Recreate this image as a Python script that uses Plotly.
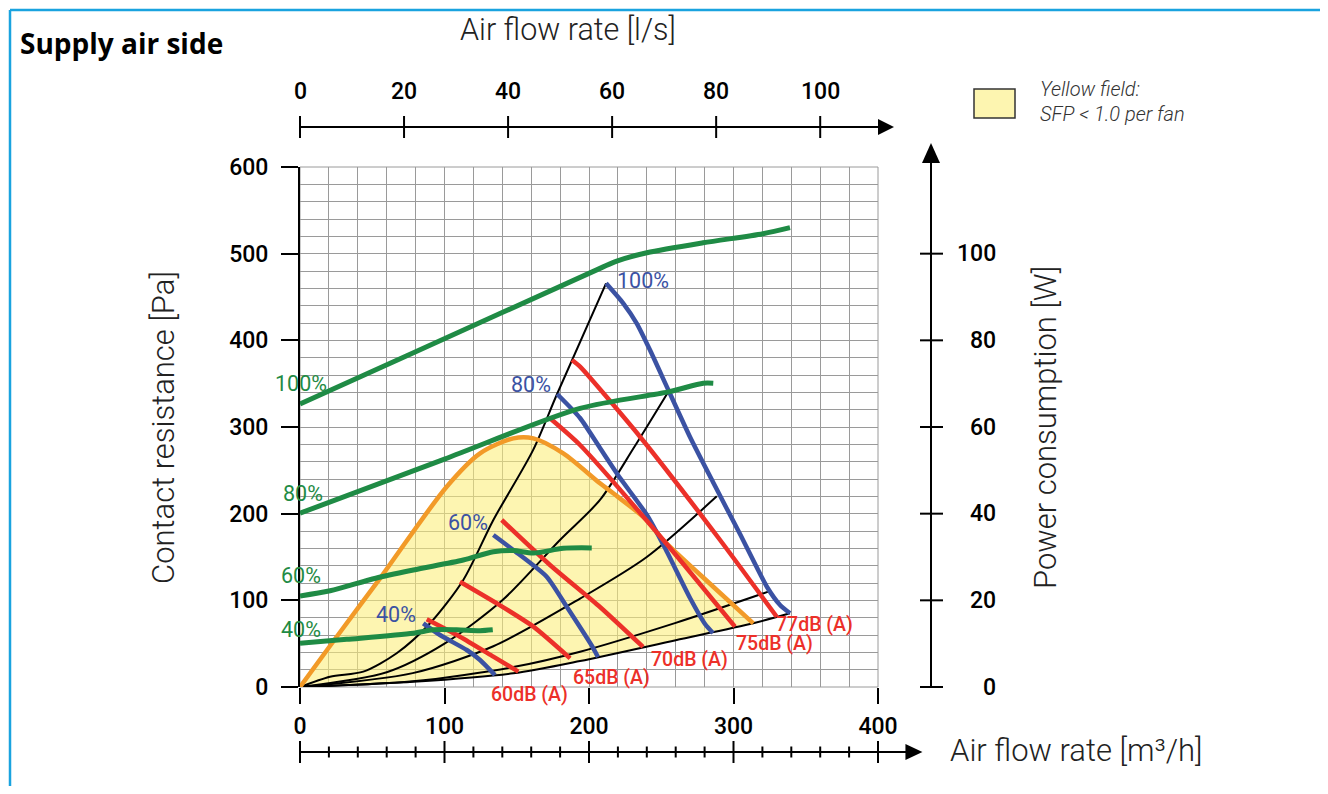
import plotly.graph_objects as go

# ---------------- data ----------------
x_range = [0, 400]            # m3/h
y_range = [0, 600]            # Pa
w_range = [0, 120]            # W  (right axis, 1 W == 5 Pa)
x_ticks = [0, 100, 200, 300, 400]
x_minor = list(range(0, 401, 20))
y_ticks = [0, 100, 200, 300, 400, 500, 600]
w_ticks = [0, 20, 40, 60, 80, 100]
ls_ticks = [0, 20, 40, 60, 80, 100]   # l/s
ls_to_m3h = 3.6

# power consumption curves (W) per fan speed
pw_100_x = [0, 80.8, 207.6, 219.2, 240.0, 278.9, 320.4, 339.1]
pw_100_w = [65.3, 77.5, 96.6, 98.3, 100.2, 102.5, 104.6, 106.0]
pw_80_x = [0, 100, 193.8, 254.9, 279.1, 286.0]
pw_80_w = [40.1, 52.6, 64.3, 68.1, 70.1, 70.1]
pw_60_x = [0, 20.8, 52.4, 78.4, 113.0, 133.8, 147.6, 161.5, 182.2, 201.9]
pw_60_w = [21.0, 22.2, 25.1, 27.0, 29.3, 31.2, 31.5, 30.9, 32.0, 32.1]
pw_40_x = [0, 32.3, 78.4, 92.3, 108.4, 124.6, 133.4]
pw_40_w = [10.1, 11.0, 12.4, 13.2, 13.2, 13.0, 13.2]

# fan curves (Pa) per fan speed
fan_100_x = [211.8, 223.7, 233.0, 242.2, 254.9, 269.9, 285.8, 304.5, 323.2, 332.2, 339.1]
fan_100_pa = [465.8, 442.7, 419.6, 388.8, 342.7, 288.5, 236.5, 176.5, 115.4, 94.6, 85.0]
fan_80_x = [177.9, 193.8, 207.6, 221.5, 240.1, 252.6, 269.9, 280.3, 285.8]
fan_80_pa = [338.1, 310.4, 275.8, 241.1, 198.5, 160.4, 102.7, 72.7, 62.3]
fan_60_x = [133.8, 147.6, 170.7, 184.6, 203.0, 206.2]
fan_60_pa = [175.4, 158.1, 127.3, 92.6, 44.7, 34.6]
fan_40_x = [85.3, 96.9, 115.4, 124.6, 134.9]
fan_40_pa = [73.5, 60.0, 42.7, 31.2, 13.8]

# system curves (black)
sys_1_x = [0, 20.8, 43.8, 66.9, 90.0, 113.0, 133.8, 161.2, 177.9, 211.8]
sys_1_pa = [0, 11.9, 17.7, 38.9, 73.5, 123.5, 192.7, 273.0, 338.1, 465.8]
sys_2_x = [0, 60, 100, 140, 179.9, 207.6, 231.0, 254.9]
sys_2_pa = [0, 17, 50, 100, 169.6, 215.8, 276.0, 340.7]
sys_3_x = [0, 78, 133.8, 193.8, 240, 288.4]
sys_3_pa = [0, 16, 47, 102, 150, 220]
sys_4_x = [0, 78, 147.6, 193.8, 260, 324.1]
sys_4_pa = [0, 6.5, 23, 40.7, 74, 110]
sys_5_x = [0, 78.4, 147.6, 193.8, 260, 313.7, 339.1]
sys_5_pa = [0, 6, 15.8, 30, 54, 73.5, 85]

# sound level lines (red)
db_60_x = [87.7, 110.7, 133.8, 151.1]
db_60_pa = [78.1, 58.0, 35.0, 17.7]
db_65_x = [110.7, 136.1, 161.5, 186.9]
db_65_pa = [121.5, 96.6, 69.6, 33.1]
db_70_x = [139.6, 173.0, 207.6, 237.4]
db_70_pa = [192.7, 140.8, 92.3, 46.2]
db_75_x = [173.0, 193.8, 251.4, 301.0]
db_75_pa = [310.0, 279.2, 169.6, 69.6]
db_77_x = [188.2, 193.8, 235.3, 290.7, 329.9]
db_77_pa = [377.3, 369.6, 288.8, 169.6, 81.1]

# SFP < 1.0 boundary (orange)
sfp_x = [0, 25.4, 55.4, 101.5, 124.6, 147.6, 161.5, 182.2, 207.6, 216.8, 239.9, 251.4, 286.0, 313.7]
sfp_pa = [0, 58.0, 125.4, 231.1, 269.6, 286.9, 286.9, 269.6, 235.0, 223.5, 192.7, 169.6, 115.7, 73.5]

# labels
speed_labels = ["100%", "80%", "60%", "40%"]
pw_label_x = [1, 2.4, 0.6, 1]
pw_label_pa = [350.4, 223.5, 128.3, 66.9]
fan_label_x = [237.6, 159.7, 116.3, 66.3]
fan_label_pa = [469.6, 349.4, 189.8, 83.7]
db_labels = ["60dB (A)", "65dB (A)", "70dB (A)", "75dB (A)", "77dB (A)"]
db_label_x = [158.8, 215.9, 269.6, 328.7, 356.0]
db_label_pa = [-9.2, 11.5, 32.3, 50.5, 72.0]

# ---------------- styling ----------------
GREEN = "#1f8b45"
BLUE = "#3b52a3"
RED = "#ec3029"
ORANGE = "#f29a28"
BLACK = "#000000"
GRID = "#9a9a9a"
FONT = "Roboto"

fig = go.Figure()

def fx(v):   # data x -> paper fraction
    return (v - x_range[0]) / (x_range[1] - x_range[0])

def fy(v):   # data y (Pa) -> paper fraction
    return (v - y_range[0]) / (y_range[1] - y_range[0])

# yellow SFP field: below orange, above lowest system curve
low_x = [x for x in sys_5_x if x <= sfp_x[-1]]
low_pa = sys_5_pa[:len(low_x)]
fig.add_trace(go.Scatter(
    x=sfp_x + low_x[::-1], y=sfp_pa + low_pa[::-1],
    fill="toself", fillcolor="rgba(252,238,120,0.58)",
    line=dict(width=0), mode="lines", hoverinfo="skip", showlegend=False))

for sx, sy in [(sys_1_x, sys_1_pa), (sys_2_x, sys_2_pa), (sys_3_x, sys_3_pa),
               (sys_4_x, sys_4_pa), (sys_5_x, sys_5_pa)]:
    fig.add_trace(go.Scatter(x=sx, y=sy, mode="lines",
                             line=dict(color=BLACK, width=2, shape="spline", smoothing=0.8),
                             showlegend=False))

fig.add_trace(go.Scatter(x=sfp_x, y=sfp_pa, mode="lines",
                         line=dict(color=ORANGE, width=4.5, shape="spline", smoothing=0.8),
                         showlegend=False))

for fxs, fys in [(fan_100_x, fan_100_pa), (fan_80_x, fan_80_pa),
                 (fan_60_x, fan_60_pa), (fan_40_x, fan_40_pa)]:
    fig.add_trace(go.Scatter(x=fxs, y=fys, mode="lines",
                             line=dict(color=BLUE, width=4.5, shape="spline", smoothing=0.6),
                             showlegend=False))

for dx, dy in [(db_60_x, db_60_pa), (db_65_x, db_65_pa), (db_70_x, db_70_pa),
               (db_75_x, db_75_pa), (db_77_x, db_77_pa)]:
    fig.add_trace(go.Scatter(x=dx, y=dy, mode="lines",
                             line=dict(color=RED, width=4.5, shape="spline", smoothing=0.6),
                             showlegend=False))

for gx, gy in [(pw_100_x, pw_100_w), (pw_80_x, pw_80_w),
               (pw_60_x, pw_60_w), (pw_40_x, pw_40_w)]:
    fig.add_trace(go.Scatter(x=gx, y=gy, yaxis="y2", mode="lines",
                             line=dict(color=GREEN, width=5, shape="spline", smoothing=0.8),
                             showlegend=False))

ann = []

def note(**kw):
    kw.setdefault("showarrow", False)
    kw.setdefault("xanchor", "center")
    kw.setdefault("yanchor", "middle")
    ann.append(kw)

for t, x, y in zip(speed_labels, pw_label_x, pw_label_pa):
    note(x=x, y=y, xref="x", yref="y", text=t,
         font=dict(family=FONT, size=21.5, color=GREEN))
for t, x, y in zip(speed_labels, fan_label_x, fan_label_pa):
    note(x=x, y=y, xref="x", yref="y", text=t,
         font=dict(family=FONT, size=21.5, color=BLUE))
for t, x, y in zip(db_labels, db_label_x, db_label_pa):
    note(x=x, y=fy(y), xref="x", yref="paper", text=t,
         font=dict(family=FONT, size=19.5, color=RED, weight=500))

shapes = []
PXX = 1.0 / 578.0   # one pixel in paper x
PXY = 1.0 / 520.0   # one pixel in paper y
line_k = dict(color=BLACK, width=2)
TICKFONT = dict(family=FONT, size=23, color=BLACK, weight=500)

# top l/s axis
top_y = 1 + 40 * PXY
shapes.append(dict(type="line", xref="paper", yref="paper", x0=0, x1=fx(400) + 2 * PXX,
                   y0=top_y, y1=top_y, line=line_k))
shapes.append(dict(type="path", xref="paper", yref="paper",
                   path=f"M {fx(400)},{top_y + 8*PXY} L {fx(400) + 16*PXX},{top_y} L {fx(400)},{top_y - 8*PXY} Z",
                   fillcolor=BLACK, line=dict(width=0)))
for v in ls_ticks:
    xv = fx(v * ls_to_m3h)
    shapes.append(dict(type="line", xref="paper", yref="paper", x0=xv, x1=xv,
                       y0=top_y - 11 * PXY, y1=top_y + 11 * PXY, line=line_k))
    note(x=xv, y=1 + 76 * PXY, xref="paper", yref="paper", text=str(v), font=TICKFONT)

# bottom arrow axis (m3/h)
bot_y = -65 * PXY
shapes.append(dict(type="line", xref="paper", yref="paper", x0=0, x1=fx(420),
                   y0=bot_y, y1=bot_y, line=line_k))
shapes.append(dict(type="path", xref="paper", yref="paper",
                   path=f"M {fx(419)},{bot_y + 8*PXY} L {fx(419) + 17*PXX},{bot_y} L {fx(419)},{bot_y - 8*PXY} Z",
                   fillcolor=BLACK, line=dict(width=0)))
for v in x_minor:
    h = 11 if v in x_ticks else 5.5
    shapes.append(dict(type="line", xref="paper", yref="paper", x0=fx(v), x1=fx(v),
                       y0=bot_y - h * PXY, y1=bot_y + h * PXY, line=line_k))

# right W axis
rx = (931 - 300) * PXX
shapes.append(dict(type="line", xref="paper", yref="paper", x0=rx, x1=rx,
                   y0=0, y1=1 + 4 * PXY, line=line_k))
shapes.append(dict(type="path", xref="paper", yref="paper",
                   path=f"M {rx - 9*PXX},{1 + 4*PXY} L {rx},{1 + 24*PXY} L {rx + 9*PXX},{1 + 4*PXY} Z",
                   fillcolor=BLACK, line=dict(width=0)))
for v in w_ticks:
    yv = v / w_range[1]
    shapes.append(dict(type="line", xref="paper", yref="paper", x0=rx - 11 * PXX, x1=rx + 12 * PXX,
                       y0=yv, y1=yv, line=line_k))
    note(x=(998 - 300) * PXX, y=yv, xref="paper", yref="paper", text=str(v),
         xanchor="right", font=TICKFONT)

# plot frame (top/right grid edges)
shapes.append(dict(type="rect", xref="paper", yref="paper", x0=0, x1=1, y0=0, y1=1,
                   line=dict(color=GRID, width=1), layer="below"))

# legend box
shapes.append(dict(type="rect", xref="paper", yref="paper",
                   x0=(974 - 300) * PXX, x1=(1015 - 300) * PXX,
                   y0=(687 - 118) * PXY, y1=(687 - 89) * PXY,
                   fillcolor="#fdf5b0", line=dict(color="#333333", width=1.5)))
note(x=(1038 - 300) * PXX, y=(687 - 89) * PXY, xref="paper", yref="paper",
     text="<i>Yellow field:</i>", xanchor="left",
     font=dict(family=FONT, size=20, color="#333333", weight=300))
note(x=(1038 - 300) * PXX, y=(687 - 114) * PXY, xref="paper", yref="paper",
     text="<i>SFP &lt; 1.0 per fan</i>", xanchor="left",
     font=dict(family=FONT, size=20, color="#333333", weight=300))

# outer blue frame
FRAME = dict(color="#1aa3df", width=2.5)
shapes.append(dict(type="line", xref="paper", yref="paper",
                   x0=(10 - 300) * PXX, x1=(1322 - 300) * PXX,
                   y0=(687 - 10) * PXY, y1=(687 - 10) * PXY, line=FRAME))
shapes.append(dict(type="line", xref="paper", yref="paper",
                   x0=(10 - 300) * PXX, x1=(10 - 300) * PXX,
                   y0=(687 - 830) * PXY, y1=(687 - 10) * PXY, line=FRAME))
shapes.append(dict(type="line", xref="paper", yref="paper",
                   x0=(1322 - 300) * PXX, x1=(1322 - 300) * PXX,
                   y0=(687 - 830) * PXY, y1=(687 - 10) * PXY, line=FRAME))

# titles
TITLEFONT = dict(family=FONT, size=31, color="#222222", weight=300)
note(x=(18 - 300) * PXX, y=(687 - 43) * PXY, xref="paper", yref="paper",
     text="<b>Supply air side</b>", xanchor="left",
     font=dict(family="Open Sans", size=28, color=BLACK, weight=800))
note(x=(568 - 300) * PXX, y=(687 - 30) * PXY, xref="paper", yref="paper",
     text="Air flow rate [l/s]", font=dict(TITLEFONT, size=30.5))
note(x=(1076 - 300) * PXX, y=(687 - 750) * PXY, xref="paper", yref="paper",
     text="Air flow rate [m³/h]", font=TITLEFONT)
note(x=(163 - 300) * PXX, y=(687 - 428) * PXY, xref="paper", yref="paper",
     text="Contact resistance [Pa]", textangle=-90, font=TITLEFONT)
note(x=(1045 - 300) * PXX, y=(687 - 428) * PXY, xref="paper", yref="paper",
     text="Power consumption [W]", textangle=-90, font=TITLEFONT)

# page body has an 8px margin: size the figure so the plot lands at x 300..878, y 167..687
fig.update_layout(
    width=1320, height=778, autosize=False,
    margin=dict(l=292, r=450, t=159, b=99),
    paper_bgcolor="white", plot_bgcolor="white",
    font=dict(family=FONT, color=BLACK),
    showlegend=False,
    shapes=shapes, annotations=ann,
    xaxis=dict(range=x_range, tickvals=x_ticks, ticks="outside", ticklen=16, tickwidth=2,
               tickcolor=BLACK, showline=False, zeroline=False,
               showgrid=True, gridcolor=GRID, gridwidth=1,
               minor=dict(dtick=20, showgrid=True, gridcolor=GRID, gridwidth=1),
               ticklabelstandoff=2, tickfont=TICKFONT),
    yaxis=dict(range=y_range, tickvals=y_ticks, ticks="outside", ticklen=17, tickwidth=2,
               tickcolor=BLACK, showline=True, linecolor=BLACK, linewidth=2, zeroline=False,
               showgrid=True, gridcolor=GRID, gridwidth=1,
               minor=dict(dtick=20, showgrid=True, gridcolor=GRID, gridwidth=1),
               ticklabelstandoff=8, tickfont=TICKFONT),
    yaxis2=dict(range=w_range, overlaying="y", side="right", visible=False),
)

fig.write_html("out.html")
